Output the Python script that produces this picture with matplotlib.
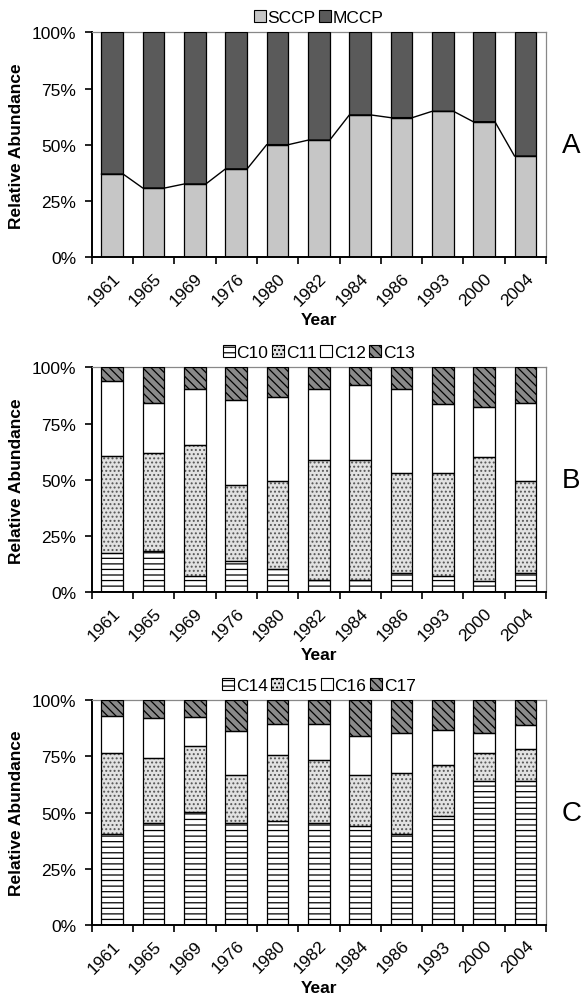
"""
SCCP / MCCP relative abundance by year, three stacked panels
"""

import numpy as np
import matplotlib
matplotlib.use('Agg')
import matplotlib.pyplot as plt
from matplotlib.patches import Patch

plt.rcParams['font.family'] = ['Liberation Sans', 'DejaVu Sans']
plt.rcParams['hatch.linewidth'] = 0.9

years = ['1961', '1965', '1969', '1976', '1980', '1982', '1984', '1986', '1993', '2000', '2004']

# Panel A - SCCP share (%), MCCP is the rest
sccp = [37.0, 30.8, 32.6, 39.3, 50.1, 52.1, 63.3, 62.1, 64.9, 60.3, 45.0]
mccp = [100 - v for v in sccp]

# Panel B - C10..C13 (%)
c10 = [17.3, 18.2, 7.4, 13.8, 10.4, 5.6, 5.6, 8.4, 7.4, 5.2, 8.6]
c11 = [43.4, 43.6, 58.1, 33.9, 38.9, 53.2, 53.4, 44.6, 45.6, 54.8, 40.7]
c12 = [33.1, 22.5, 24.9, 37.9, 37.7, 31.6, 33.3, 37.4, 30.7, 22.5, 34.7]
c13 = [6.2, 15.7, 9.6, 14.4, 13.0, 9.6, 7.7, 9.6, 16.3, 17.5, 16.0]

# Panel C - C14..C17 (%)
c14 = [40.7, 45.3, 50.1, 45.3, 46.1, 45.2, 44.1, 40.7, 48.6, 64.1, 64.1]
c15 = [35.6, 28.9, 29.3, 21.4, 29.6, 28.1, 22.6, 26.9, 22.7, 12.3, 14.1]
c16 = [16.7, 17.8, 13.2, 19.4, 13.6, 16.0, 17.4, 17.7, 15.5, 8.9, 10.7]
c17 = [7.0, 8.0, 7.4, 13.9, 10.7, 10.7, 15.9, 14.7, 13.2, 14.7, 11.1]

# fill colour, hatch colour, hatch
styles_a = [('#c6c6c6', '#c6c6c6', ''), ('#5a5a5a', '#5a5a5a', '')]
styles_bc = [('white', 'black', '---'),
             ('#e2e2e2', '#555555', '....'),
             ('white', 'white', ''),
             ('#8a8a8a', 'black', '\\\\\\\\')]

fig = plt.figure(figsize=(5.84, 9.95), dpi=100)
left, width, height = 0.157, 0.778, 0.226
bottoms = [0.7404, 0.4037, 0.0693]
x = np.arange(len(years))
bw = 0.525
fs = 12.5


def stacked(ax, series, names, styles, letter):
    base = np.zeros(len(years))
    handles = []
    for vals, name, (fc, hc, h) in zip(series, names, styles):
        vals = np.array(vals)
        ax.bar(x, vals, bw, bottom=base, color=fc, edgecolor=hc, hatch=h, linewidth=0, zorder=2)
        ax.bar(x, vals, bw, bottom=base, fill=False, edgecolor='black', linewidth=0.9, zorder=3)
        base = base + vals
        handles.append(Patch(facecolor=fc, edgecolor='black', hatch=h, linewidth=0.8, label=name))

    ax.set_xlim(-0.5, len(years) - 0.5)
    ax.set_ylim(0, 100)
    ax.set_yticks([0, 25, 50, 75, 100])
    ax.set_yticklabels(['0%', '25%', '50%', '75%', '100%'], fontsize=fs)
    ax.set_xticks(np.arange(-0.5, len(years)), labels=[''] * (len(years) + 1))
    ax.set_xticks(x, labels=years, minor=True, rotation=45, ha='right',
                  rotation_mode='anchor', fontsize=fs)
    ax.tick_params(axis='x', which='minor', length=0, pad=9)
    ax.tick_params(axis='both', which='major', length=5, width=1.2, direction='out')
    ax.tick_params(axis='y', pad=6)
    for s in ['left', 'bottom']:
        ax.spines[s].set_linewidth(1.4)
    for s in ['top', 'right']:
        ax.spines[s].set_color('#888888')
        ax.spines[s].set_linewidth(0.9)
    ax.set_ylabel('Relative Abundance', fontsize=fs, fontweight='bold')
    ax.yaxis.set_label_coords(-0.15, 0.5)
    ax.set_xlabel('Year', fontsize=fs, fontweight='bold')
    ax.xaxis.set_label_coords(0.5, -0.245)
    ax.legend(handles=handles, loc='lower center', bbox_to_anchor=(0.5, 0.985), ncol=len(handles),
              frameon=False, fontsize=fs, handlelength=0.7, handleheight=0.7,
              handletextpad=0.1, columnspacing=0.2, borderpad=0.1)
    ax.text(1.056, 0.5, letter, transform=ax.transAxes, fontsize=20, ha='center', va='center')


ax_a = fig.add_axes([left, bottoms[0], width, height])
stacked(ax_a, [sccp, mccp], ['SCCP', 'MCCP'], styles_a, 'A')

# series lines linking the SCCP tops
lx, ly = [], []
for i, v in enumerate(sccp):
    lx += [x[i] - bw / 2, x[i] + bw / 2]
    ly += [v, v]
ax_a.plot(lx, ly, color='black', linewidth=1.0, zorder=4)

ax_b = fig.add_axes([left, bottoms[1], width, height])
stacked(ax_b, [c10, c11, c12, c13], ['C10', 'C11', 'C12', 'C13'], styles_bc, 'B')

ax_c = fig.add_axes([left, bottoms[2], width, height])
stacked(ax_c, [c14, c15, c16, c17], ['C14', 'C15', 'C16', 'C17'], styles_bc, 'C')

fig.savefig('out.png', dpi=100)
